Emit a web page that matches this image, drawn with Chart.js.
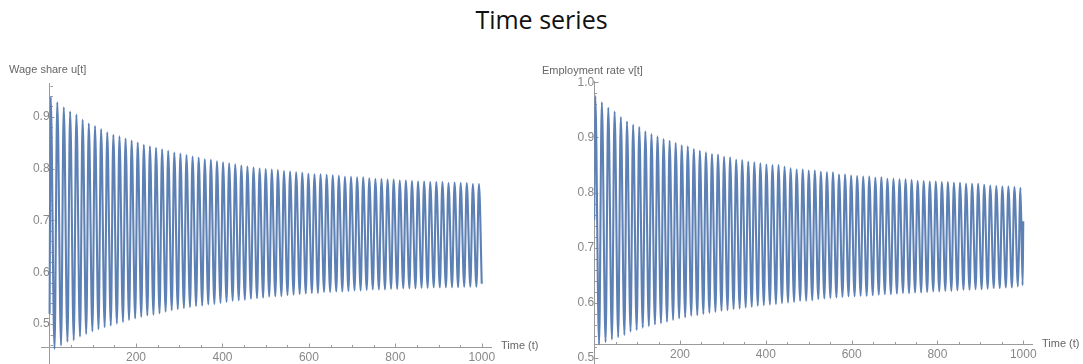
<!DOCTYPE html>
<html>
<head>
<meta charset="utf-8">
<script src="https://cdn.jsdelivr.net/npm/chart.js@4.4.1/dist/chart.umd.min.js"></script>
<style>
  html, body { margin: 0; padding: 0; background: #fff; }
  body { width: 1083px; height: 364px; position: relative; overflow: hidden; font-family: "Liberation Sans", Arial, sans-serif; }
  #title { position: absolute; left: 0; top: 2px; width: 1083px; text-align: center; font: 25px "Open Sans", sans-serif; color: #111; line-height: 34px; }
  canvas { position: absolute; top: 0; }
  .lbl { position: absolute; font-size: 11px; line-height: 11px; color: #666; white-space: nowrap; }
</style>
</head>
<body>
<div id="title">Time series</div>
<canvas id="wage" width="541" height="364" style="left:0"></canvas>
<canvas id="employment" width="542" height="364" style="left:541px"></canvas>
<div class="lbl" style="left:9px;top:64px">Wage share u[t]</div>
<div class="lbl" style="left:542px;top:65px">Employment rate v[t]</div>
<div class="lbl" style="left:501px;top:340px">Time (t)</div>
<div class="lbl" style="left:1042px;top:338px">Time (t)</div>
<script>
// Goodwin cycle: turning points of wage share u[t] and employment rate v[t]

const timeTicks = [200, 400, 600, 800, 1000];
const wageTicks = [0.5, 0.6, 0.7, 0.8, 0.9];
const employmentTicks = [0.5, 0.6, 0.7, 0.8, 0.9, 1.0];

// times of the cycle maxima and minima
const peakTimes = [2.5, 17.8, 32.8, 47.5, 62.0, 76.4, 90.7, 105.0, 119.2, 133.4,
  147.5, 161.6, 175.7, 189.8, 203.9, 218.0, 232.1, 246.2, 260.3, 274.4,
  288.5, 302.6, 316.7, 330.8, 344.9, 359.0, 373.1, 387.2, 401.3, 415.4,
  429.5, 443.6, 457.7, 471.8, 485.9, 500.0, 514.1, 528.2, 542.3, 556.4,
  570.5, 584.6, 598.7, 612.8, 626.9, 641.0, 655.1, 669.2, 683.3, 697.4,
  711.5, 725.6, 739.7, 753.8, 767.9, 782.0, 796.1, 810.2, 824.3, 838.4,
  852.5, 866.6, 880.7, 894.8, 908.9, 923.0, 937.1, 951.2, 965.3, 979.4,
  993.5];
const troughTimes = [11.4, 26.5, 41.3, 55.9, 70.4, 84.7, 99.0, 113.2, 127.4, 141.6,
  155.7, 169.8, 183.9, 198.0, 212.1, 226.2, 240.3, 254.4, 268.5, 282.6,
  296.7, 310.8, 324.9, 339.0, 353.1, 367.2, 381.3, 395.4, 409.5, 423.6,
  437.7, 451.8, 465.9, 480.0, 494.1, 508.2, 522.3, 536.4, 550.5, 564.6,
  578.7, 592.8, 606.9, 621.0, 635.1, 649.2, 663.3, 677.4, 691.5, 705.6,
  719.7, 733.8, 747.9, 762.0, 776.1, 790.2, 804.3, 818.4, 832.5, 846.6,
  860.7, 874.8, 888.9, 903.0, 917.1, 931.2, 945.3, 959.4, 973.5, 987.6];

// wage share u[t]
const wageStart = 0.52;
const wagePeaks = [0.939, 0.928, 0.918, 0.910, 0.904, 0.894, 0.887, 0.882, 0.876, 0.870,
  0.865, 0.862, 0.858, 0.854, 0.850, 0.846, 0.843, 0.840, 0.837, 0.834,
  0.831, 0.829, 0.826, 0.823, 0.821, 0.818, 0.817, 0.814, 0.812, 0.810,
  0.808, 0.806, 0.804, 0.802, 0.800, 0.799, 0.798, 0.797, 0.795, 0.794,
  0.793, 0.792, 0.790, 0.789, 0.789, 0.788, 0.787, 0.786, 0.784, 0.784,
  0.783, 0.783, 0.781, 0.780, 0.780, 0.779, 0.779, 0.777, 0.777, 0.776,
  0.775, 0.775, 0.774, 0.774, 0.774, 0.772, 0.773, 0.772, 0.772, 0.770,
  0.770];
const wageTroughs = [0.452, 0.459, 0.466, 0.469, 0.476, 0.481, 0.486, 0.490, 0.494, 0.497,
  0.501, 0.504, 0.508, 0.511, 0.514, 0.517, 0.518, 0.521, 0.524, 0.527,
  0.529, 0.531, 0.533, 0.535, 0.536, 0.538, 0.539, 0.541, 0.543, 0.545,
  0.546, 0.547, 0.549, 0.550, 0.551, 0.553, 0.554, 0.554, 0.556, 0.557,
  0.558, 0.559, 0.560, 0.560, 0.562, 0.562, 0.563, 0.563, 0.564, 0.565,
  0.565, 0.566, 0.567, 0.567, 0.567, 0.568, 0.568, 0.569, 0.569, 0.569,
  0.570, 0.570, 0.571, 0.571, 0.571, 0.571, 0.571, 0.572, 0.572, 0.572];
const wageTailT = [1000];
const wageTailV = [0.578];

// employment rate v[t]
const employmentStart = 0.75;
const employmentPeaks = [0.975, 0.964, 0.954, 0.947, 0.937, 0.929, 0.923, 0.919, 0.911, 0.906,
  0.902, 0.897, 0.894, 0.890, 0.886, 0.884, 0.879, 0.876, 0.873, 0.870,
  0.869, 0.865, 0.864, 0.860, 0.859, 0.856, 0.855, 0.853, 0.851, 0.850,
  0.850, 0.847, 0.844, 0.842, 0.842, 0.840, 0.840, 0.838, 0.837, 0.837,
  0.833, 0.833, 0.831, 0.830, 0.829, 0.829, 0.827, 0.828, 0.825, 0.825,
  0.824, 0.824, 0.823, 0.821, 0.821, 0.820, 0.820, 0.819, 0.819, 0.818,
  0.818, 0.816, 0.816, 0.816, 0.814, 0.813, 0.812, 0.811, 0.811, 0.810,
  0.809];
const employmentTroughs = [0.525, 0.529, 0.534, 0.538, 0.542, 0.548, 0.551, 0.555, 0.558, 0.561,
  0.563, 0.566, 0.569, 0.572, 0.574, 0.577, 0.578, 0.580, 0.582, 0.584,
  0.586, 0.587, 0.589, 0.590, 0.592, 0.593, 0.595, 0.596, 0.597, 0.598,
  0.600, 0.601, 0.602, 0.604, 0.604, 0.605, 0.607, 0.608, 0.609, 0.610,
  0.611, 0.612, 0.612, 0.613, 0.613, 0.614, 0.615, 0.616, 0.616, 0.617,
  0.618, 0.618, 0.619, 0.619, 0.620, 0.621, 0.621, 0.622, 0.622, 0.623,
  0.624, 0.624, 0.625, 0.625, 0.626, 0.627, 0.627, 0.628, 0.628, 0.630];
const employmentTailT = [998.5, 1000];
const employmentTailV = [0.632, 0.748];

function series(start, peaks, troughs, tailT, tailV) {
  const pts = [{ x: 0, y: start }];
  peaks.forEach((p, i) => {
    pts.push({ x: peakTimes[i], y: p });
    if (i < troughs.length) pts.push({ x: troughTimes[i], y: troughs[i] });
  });
  tailT.forEach((t, i) => pts.push({ x: t, y: tailV[i] }));
  return pts;
}

const AXIS_GREY = '#9a9a9a';
const LINE_BLUE = '#5E81B5';
const PAGE_H = 364;

// inward major/minor tick marks on both axes
const tickMarks = {
  id: 'tickMarks',
  beforeDatasetsDraw(chart, _args, o) {
    const { ctx, scales: { x, y } } = chart;
    const ax = Math.round(x.getPixelForValue(0)) + 0.5;
    const ay = Math.round(y.getPixelForValue(o.cross)) + 0.5;
    ctx.save();
    ctx.strokeStyle = AXIS_GREY;
    ctx.lineWidth = 1;
    ctx.beginPath();
    for (let t = 50; t <= 1000; t += 50) {
      const px = Math.round(x.getPixelForValue(t)) + 0.5;
      const len = t % 200 === 0 ? 4 : 2.5;
      ctx.moveTo(px, ay);
      ctx.lineTo(px, ay - len);
    }
    for (let k = Math.round(o.yMinorFrom * 50); k / 50 <= y.max + 1e-9; k++) {
      const py = Math.round(y.getPixelForValue(k / 50)) + 0.5;
      const len = k % 5 === 0 ? 4 : 2.5;
      ctx.moveTo(ax, py);
      ctx.lineTo(ax + len, py);
    }
    ctx.stroke();
    ctx.restore();
  }
};

Chart.defaults.font.family = '"Liberation Sans", Arial, sans-serif';
Chart.defaults.font.size = 12;
Chart.defaults.color = '#888';

function config(data, yTicks, c) {
  return {
    type: 'line',
    data: {
      datasets: [{
        data: data,
        borderColor: LINE_BLUE,
        borderWidth: 2.1,
        pointRadius: 0,
        fill: false,
        cubicInterpolationMode: 'monotone',
        borderJoinStyle: 'round'
      }]
    },
    options: {
      responsive: false,
      maintainAspectRatio: false,
      animation: false,
      parsing: false,
      events: [],
      layout: { padding: c.padding },
      plugins: { legend: { display: false }, tooltip: { enabled: false }, tickMarks: { cross: c.cross, yMinorFrom: c.yMinorFrom } },
      scales: {
        x: {
          type: 'linear', min: c.xMin, max: c.xMax,
          position: { y: c.cross },
          grid: { display: false, drawTicks: false },
          border: { display: true, color: AXIS_GREY, width: 1 },
          ticks: { autoSkip: false, maxRotation: 0, padding: 3, callback: v => String(v) },
          afterBuildTicks: s => { s.ticks = timeTicks.map(v => ({ value: v })); }
        },
        y: {
          type: 'linear', min: c.yMin, max: c.yMax,
          position: { x: 0 },
          grid: { display: false },
          border: { display: true, color: AXIS_GREY, width: 1 },
          ticks: { autoSkip: false, padding: 5, callback: v => v.toFixed(1) },
          afterBuildTicks: s => { s.ticks = yTicks.map(v => ({ value: v })); }
        }
      }
    },
    plugins: [tickMarks]
  };
}

// the plot area runs to the bottom edge of the page; the canvas is made taller
// by whatever room the tick labels reserve below it
function panel(id, data, yTicks, c) {
  const canvas = document.getElementById(id);
  let chart = new Chart(canvas, config(data, yTicks, c));
  const extra = PAGE_H - chart.chartArea.bottom;
  if (Math.abs(extra) > 0.25) {
    const w = canvas.width;
    chart.destroy();
    const h = Math.round(PAGE_H + extra);
    canvas.width = w;
    canvas.height = h;
    canvas.style.width = w + 'px';
    canvas.style.height = h + 'px';
    chart = new Chart(canvas, config(data, yTicks, c));
  }
  return chart;
}

panel('wage', series(wageStart, wagePeaks, wageTroughs, wageTailT, wageTailV), wageTicks, {
  padding: { left: 41.3, right: 49.3, top: 83.3, bottom: 0 },
  xMin: -19.2, xMax: 1023, yMin: 0.4235, yMax: 0.9644, cross: 0.4555, yMinorFrom: 0.46
});

panel('employment', series(employmentStart, employmentPeaks, employmentTroughs, employmentTailT, employmentTailV), employmentTicks, {
  padding: { left: 53.2, right: 50.3, top: 81, bottom: 0 },
  xMin: 0, xMax: 1022, yMin: 0.4897, yMax: 1.0024, cross: 0.5252, yMinorFrom: 0.5
});
</script>
</body>
</html>
